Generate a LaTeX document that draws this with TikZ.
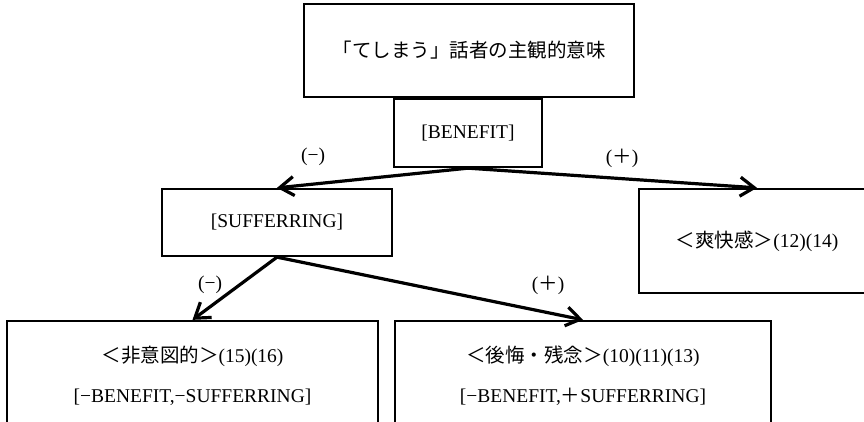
\documentclass[tikz,border=0pt]{standalone}
\usepackage{fontspec}
\setmainfont{Liberation Serif}
\newfontfamily\cjk{Noto Sans CJK JP}
\usetikzlibrary{arrows.meta}
\begin{document}
\begin{tikzpicture}[x=1pt,y=-1pt,
  box/.style={draw, line width=2.3pt, inner sep=0pt, align=center},
  conn/.style={line width=3.2pt, -{Straight Barb[length=14pt,width=19pt,line width=3.2pt]}},
  lbl/.style={inner sep=0pt},
  font=\fontsize{19.5}{40}\selectfont]
\useasboundingbox (0,0) rectangle (864,421);
\clip (0,0) rectangle (864,421);
\node[box, minimum width=330pt, minimum height=93pt] (top) at (469,50.5)
  {\raisebox{-2pt}{\cjk 「てしまう」話者の主観的意味}};
\node[box, minimum width=148pt, minimum height=68pt] (ben) at (468,133) {[BENEFIT]};
\node[box, minimum width=230pt, minimum height=67pt] (suf) at (277,222.5) {[SUFFERRING]};
\node[box, minimum width=236pt, minimum height=104pt] (sok) at (757,241)
  {\raisebox{-3pt}{{\cjk ＜爽快感＞}(12)(14)}};
\node[box, minimum width=371pt, minimum height=110pt] (hii) at (192.5,376)
  {{\cjk ＜非意図的＞}(15)(16)\\[0pt][−BENEFIT,−SUFFERRING]};
\node[box, minimum width=376pt, minimum height=110pt] (kok) at (583,376)
  {{\cjk ＜後悔・残念＞}(10)(11)(13)\\[0pt][−BENEFIT,{\cjk ＋}SUFFERRING]};
\draw[conn] (ben.south) -- (suf.north);
\draw[conn] (ben.south) -- (sok.north);
\draw[conn] (suf.south) -- (hii.north);
\draw[conn] (suf.south) -- (kok.north);
\node[lbl] (l1) at (313,157) {(−)};
\node[lbl] (l2) at (622,158) {({\cjk ＋})};
\node[lbl] (l3) at (210,285) {(−)};
\node[lbl] (l4) at (548,285) {({\cjk ＋})};
\end{tikzpicture}
\end{document}
